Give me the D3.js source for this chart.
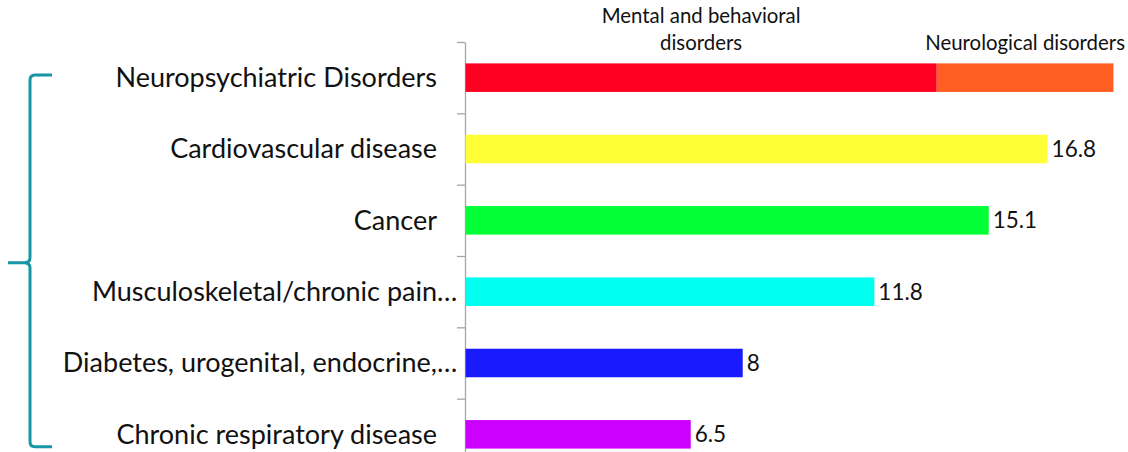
<!DOCTYPE html>
<html>
<head>
<meta charset="utf-8">
<script src="https://cdn.jsdelivr.net/npm/d3@7"></script>
<style>
  html, body { margin: 0; padding: 0; background: #fff; }
  svg { display: block; }
  text { font-family: Lato, "Open Sans", sans-serif; fill: #111; }
</style>
</head>
<body>
<svg id="chart" width="1128" height="452"></svg>
<script>
// ---- data ----
const categories = [
  "Neuropsychiatric Disorders",
  "Cardiovascular disease",
  "Cancer",
  "Musculoskeletal/chronic pain…",
  "Diabetes, urogenital, endocrine,…",
  "Chronic respiratory disease"
];
const mainValues = [13.6, 16.8, 15.1, 11.8, 8, 6.5];
const neuroValues = [5.1, 0, 0, 0, 0, 0];
const segmentLabels = [["Mental and behavioral", "disorders"], ["Neurological disorders"]];
const valueLabels = ["", "16.8", "15.1", "11.8", "8", "6.5"];

// ---- styles ----
const mainColors = ["#ff0022", "#ffff38", "#03ff35", "#00ffee", "#1a1aff", "#cc00ff"];
const neuroColor = "#ff5e22";
const axisColor = "#a6a6a6";
const braceColor = "#1797a6";

const svg = d3.select("#chart");
const x = d3.scaleLinear().domain([0, 20]).range([465.5, 1158.5]);
const y = d3.scaleBand().domain(categories).range([42, 470]).paddingInner(0.6).paddingOuter(0.3);
const yEdge = d3.scaleLinear().domain([0, categories.length]).range([42, 470]);

// axis with ticks on band boundaries
const axisG = svg.append("g")
  .attr("transform", `translate(${x(0) - 0.5},0)`)
  .call(d3.axisLeft(yEdge).tickValues(d3.range(0, categories.length + 1)).tickSize(8).tickSizeOuter(0).tickFormat(""));
axisG.select(".domain").attr("stroke", axisColor).attr("stroke-width", 1.3);
axisG.selectAll(".tick line").attr("stroke", axisColor).attr("stroke-width", 1.3);

// main bars
svg.append("g").selectAll("rect")
  .data(categories)
  .join("rect")
  .attr("x", x(0))
  .attr("y", d => y(d))
  .attr("height", y.bandwidth())
  .attr("width", (d, i) => x(mainValues[i]) - x(0))
  .attr("fill", (d, i) => mainColors[i]);

// neurological segment
svg.append("g").selectAll("rect")
  .data(categories.filter((d, i) => neuroValues[i] > 0))
  .join("rect")
  .attr("x", d => x(mainValues[categories.indexOf(d)]))
  .attr("y", d => y(d))
  .attr("height", y.bandwidth())
  .attr("width", d => { const i = categories.indexOf(d); return x(mainValues[i] + neuroValues[i]) - x(mainValues[i]); })
  .attr("fill", neuroColor);

// segment labels above first bar
const c0 = categories[0];
const segCenters = [x(mainValues[0] / 2), x(mainValues[0] + neuroValues[0] / 2)];
segmentLabels.forEach((lines, si) => {
  const t = svg.append("text")
    .attr("text-anchor", "middle")
    .attr("font-size", 20.4);
  const lastBase = y(c0) - 13;
  lines.forEach((ln, li) => {
    t.append("tspan")
      .attr("x", segCenters[si])
      .attr("y", lastBase - (lines.length - 1 - li) * 27)
      .text(ln);
  });
});

// category labels (ellipsis overhangs the alignment edge)
const labelX = x(0) - 28.5;
const labG = svg.append("g");
categories.forEach(c => {
  const cy = y(c) + y.bandwidth() / 2;
  const trunc = c.endsWith("…");
  const main = trunc ? c.slice(0, -1) : c;
  labG.append("text")
    .attr("x", labelX).attr("y", cy).attr("dy", "0.34em")
    .attr("text-anchor", "end").attr("font-size", 27)
    .text(main);
  if (trunc) {
    labG.append("text")
      .attr("x", labelX).attr("y", cy).attr("dy", "0.34em")
      .attr("text-anchor", "start").attr("font-size", 27)
      .text("…");
  }
});

// value labels
svg.append("g").selectAll("text")
  .data(categories)
  .join("text")
  .attr("x", (d, i) => x(mainValues[i] + neuroValues[i]) + 4)
  .attr("y", d => y(d) + y.bandwidth() / 2)
  .attr("dy", "0.36em")
  .attr("font-size", 22.5)
  .text((d, i) => valueLabels[i]);

// brace on the left
const bTop = 75, bBot = 446.7, bMid = 262.7, bx = 30, bTip = 8, bEnd = 52, r = 5;
svg.append("path")
  .attr("d", `M${bEnd},${bTop} L${bx + r},${bTop} Q${bx},${bTop} ${bx},${bTop + r} L${bx},${bMid - r} Q${bx},${bMid} ${bx - 6},${bMid} L${bTip},${bMid} M${bx - 6},${bMid} Q${bx},${bMid} ${bx},${bMid + r} L${bx},${bBot - r} Q${bx},${bBot} ${bx + r},${bBot} L${bEnd},${bBot}`)
  .attr("fill", "none")
  .attr("stroke", braceColor)
  .attr("stroke-width", 3);
</script>
</body>
</html>
